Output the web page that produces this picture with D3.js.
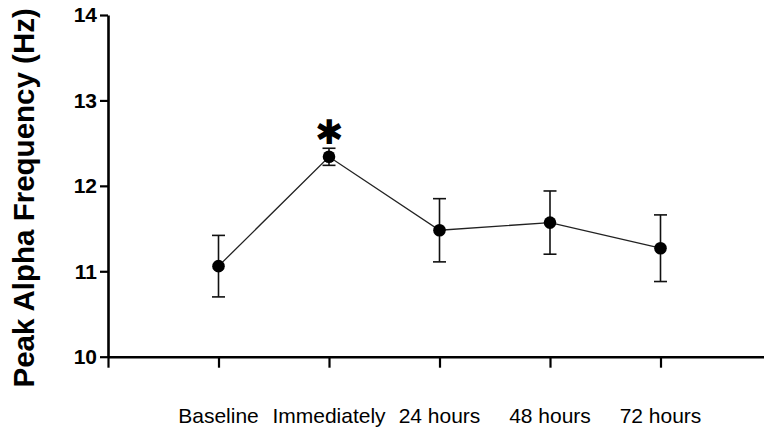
<!DOCTYPE html>
<html>
<head>
<meta charset="utf-8">
<script src="https://cdn.jsdelivr.net/npm/d3@7"></script>
<style>
  body { margin: 0; background: #fff; }
  svg { display: block; }
  text { font-family: "Liberation Sans", Arial, sans-serif; fill: #000; }
</style>
</head>
<body>
<div id="chart"></div>
<script>
// data
const timepoints = ['Baseline', 'Immediately', '24 hours', '48 hours', '72 hours']
const meanPAF = [11.06, 12.34, 11.48, 11.57, 11.27]
const semPAF = [0.36, 0.10, 0.37, 0.37, 0.39]
const sigMarks = ['', '*', '', '', '']
const yTicks = [10, 11, 12, 13, 14]

const width = 764
const height = 432
const margin = {top: 15, right: 0, bottom: 75, left: 108}

const svg = d3.select('#chart')
  .append('svg')
  .attr('width', width)
  .attr('height', height)

// x: points sit at 1..5, axis starts at 0
const x = d3.scaleLinear()
  .domain([0, 6])
  .range([margin.left, margin.left + 110.5 * 6])

const y = d3.scaleLinear()
  .domain([10, 14])
  .range([height - margin.bottom - 0.3, margin.top])

const data = timepoints.map((t, i) => ({label: t, pos: i + 1, mean: meanPAF[i], sem: semPAF[i], sig: sigMarks[i]}))

// axes
const xAxis = svg.append('g')
  .attr('transform', `translate(0,${y(10)})`)
  .call(d3.axisBottom(x).tickValues(d3.range(0, timepoints.length + 1)).tickSize(11).tickSizeOuter(0).tickFormat(''))
xAxis.select('.domain').attr('stroke-width', 2.6)
xAxis.selectAll('.tick line').attr('stroke-width', 2.2)

const yAxis = svg.append('g')
  .attr('transform', `translate(${x(0)},0)`)
  .call(d3.axisLeft(y).tickValues(yTicks).tickSize(8).tickSizeOuter(0).tickPadding(3).tickFormat(d3.format('d')))
yAxis.select('.domain').attr('stroke-width', 2.6)
yAxis.selectAll('.tick line').attr('stroke-width', 2.2)
yAxis.selectAll('.tick text')
  .attr('font-size', 21)
  .attr('font-weight', 'bold')
  .attr('font-family', '"Liberation Sans", Arial, sans-serif')
  .attr('fill', '#000')

// category labels under the ticks
svg.append('g')
  .selectAll('text')
  .data(data)
  .join('text')
  .attr('x', d => x(d.pos))
  .attr('y', 423)
  .attr('text-anchor', 'middle')
  .attr('font-size', 21)
  .text(d => d.label)

// y title
svg.append('text')
  .attr('transform', `translate(34,${(y(10) + y(14)) / 2 + 12}) rotate(-90)`)
  .attr('text-anchor', 'middle')
  .attr('font-size', 29.5)
  .attr('font-weight', 'bold')
  .text('Peak Alpha Frequency (Hz)')

// connecting line
svg.append('path')
  .datum(data)
  .attr('fill', 'none')
  .attr('stroke', '#222')
  .attr('stroke-width', 1.3)
  .attr('d', d3.line().x(d => x(d.pos)).y(d => y(d.mean)))

// error bars
const eb = svg.append('g')
  .selectAll('g')
  .data(data)
  .join('g')
  .attr('stroke', '#111')
  .attr('stroke-width', 1.6)
eb.append('line')
  .attr('x1', d => x(d.pos)).attr('x2', d => x(d.pos))
  .attr('y1', d => y(d.mean + d.sem)).attr('y2', d => y(d.mean - d.sem))
eb.append('line')
  .attr('x1', d => x(d.pos) - 6.5).attr('x2', d => x(d.pos) + 6.5)
  .attr('y1', d => y(d.mean + d.sem)).attr('y2', d => y(d.mean + d.sem))
eb.append('line')
  .attr('x1', d => x(d.pos) - 6.5).attr('x2', d => x(d.pos) + 6.5)
  .attr('y1', d => y(d.mean - d.sem)).attr('y2', d => y(d.mean - d.sem))

// points
svg.append('g')
  .selectAll('circle')
  .data(data)
  .join('circle')
  .attr('cx', d => x(d.pos))
  .attr('cy', d => y(d.mean))
  .attr('r', 6.3)
  .attr('fill', '#000')

// significance marker
svg.append('g')
  .selectAll('text')
  .data(data.filter(d => d.sig))
  .join('text')
  .attr('x', d => x(d.pos))
  .attr('y', d => y(d.mean + d.sem) - 4)
  .attr('text-anchor', 'middle')
  .attr('font-size', 34)
  .attr('font-family', '"DejaVu Sans", sans-serif')
  .text('\u2731')
</script>
</body>
</html>
